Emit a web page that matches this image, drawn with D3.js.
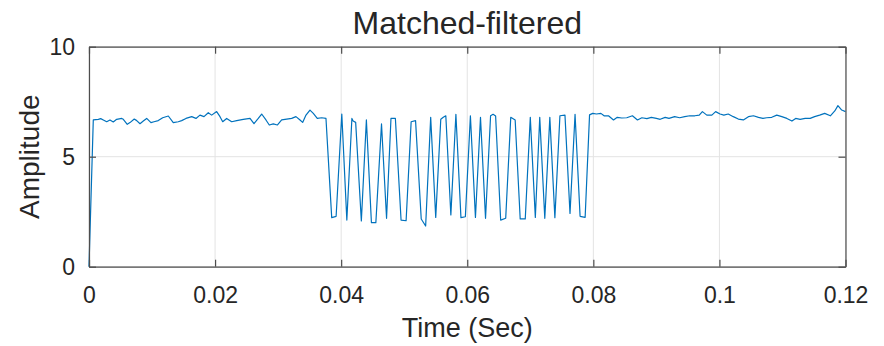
<!DOCTYPE html>
<html>
<head>
<meta charset="utf-8">
<script src="https://cdn.jsdelivr.net/npm/d3@7"></script>
<style>
  html, body { margin: 0; padding: 0; background: #fff; }
  svg { display: block; }
  text { font-family: "Liberation Sans", Arial, Helvetica, sans-serif; fill: #262626; }
</style>
</head>
<body>
<svg id="chart" width="884" height="346"></svg>
<script>
// ---- data ----
const times = [
  0, 0.00068, 0.00148, 0.00186, 0.00227, 0.00281, 0.00333, 0.00385, 0.00439, 0.00519,
  0.00544, 0.00607, 0.00650, 0.00718, 0.00757, 0.00809, 0.00861, 0.00915, 0.00983, 0.01031,
  0.01099, 0.01169, 0.01258, 0.01337, 0.01416, 0.01470, 0.01538, 0.01629, 0.01697, 0.01760,
  0.01824, 0.01892, 0.01946, 0.02025, 0.02078, 0.02121, 0.02184, 0.02263, 0.02343, 0.02447,
  0.02554, 0.02617, 0.02685, 0.02739, 0.02807, 0.02860, 0.02923, 0.02987, 0.03056, 0.03136,
  0.03215, 0.03283, 0.03347, 0.03389, 0.03442, 0.03505, 0.03558, 0.03621, 0.03691, 0.03759,
  0.0385, 0.0392, 0.0401, 0.0409, 0.0417, 0.0419, 0.0423, 0.0432, 0.0440, 0.0448,
  0.0455, 0.0464, 0.0472, 0.0479, 0.0486, 0.0495, 0.0503, 0.0511, 0.0518, 0.0527,
  0.0534, 0.0542, 0.0550, 0.0558, 0.0562, 0.0566, 0.0574, 0.0582, 0.0590, 0.0597,
  0.0605, 0.0613, 0.0621, 0.0629, 0.0637, 0.0641, 0.0645, 0.0653, 0.0661, 0.0669,
  0.0676, 0.0684, 0.0692, 0.0700, 0.0708, 0.0715, 0.0723, 0.0731, 0.0739, 0.0747,
  0.0755, 0.0763, 0.0771, 0.0779, 0.0787,
  0.0794, 0.0799, 0.0805, 0.0812, 0.0817, 0.0824, 0.0832, 0.0838, 0.0845, 0.0853,
  0.0862, 0.0870, 0.0877, 0.0885, 0.0892, 0.0900, 0.0906, 0.0914, 0.0920, 0.0929,
  0.0937, 0.0945, 0.0953, 0.0961, 0.0968, 0.0973, 0.0980, 0.0988, 0.0994, 0.1001,
  0.1007, 0.1014, 0.1022, 0.1030, 0.1038, 0.1046, 0.1054, 0.1062, 0.1069, 0.1075,
  0.1083, 0.1091, 0.1099, 0.1107, 0.1115, 0.1121, 0.1128, 0.1136, 0.1144, 0.1151,
  0.1159, 0.1167, 0.1176, 0.1183, 0.1188, 0.1194, 0.1200
];
const amplitude = [
  0, 6.67, 6.70, 6.73, 6.67, 6.59, 6.67, 6.58, 6.70, 6.74,
  6.70, 6.47, 6.55, 6.71, 6.64, 6.50, 6.62, 6.74, 6.55, 6.59,
  6.64, 6.77, 6.85, 6.55, 6.59, 6.64, 6.74, 6.82, 6.74, 6.89,
  6.82, 7.00, 6.89, 7.05, 6.82, 6.59, 6.74, 6.59, 6.64, 6.70,
  6.74, 6.50, 6.74, 6.94, 6.67, 6.44, 6.49, 6.44, 6.67, 6.71,
  6.74, 6.82, 6.67, 6.56, 6.89, 7.12, 6.97, 6.74, 6.77, 6.74,
  2.23, 2.29, 6.94, 2.12, 6.74, 6.62, 6.56, 2.08, 6.67, 2.00,
  2.00, 6.49, 2.20, 6.74, 6.74, 2.12, 2.09, 6.59, 6.64, 2.17,
  1.85, 6.79, 2.24, 6.70, 6.79, 6.86, 2.35, 6.93, 2.23, 2.27,
  6.86, 2.24, 6.79, 2.20, 6.86, 6.93, 6.85, 2.12, 2.20, 6.79,
  6.67, 2.17, 2.17, 6.79, 2.24, 6.79, 2.20, 6.79, 2.23, 6.86,
  6.89, 2.42, 6.93, 2.29, 2.24,
  6.90, 6.97, 6.94, 6.97, 6.86, 6.86, 6.67, 6.79, 6.76, 6.77,
  6.86, 6.67, 6.77, 6.73, 6.79, 6.74, 6.70, 6.79, 6.74, 6.82,
  6.77, 6.82, 6.86, 6.86, 6.89, 7.05, 6.89, 6.89, 7.05, 6.94,
  6.89, 6.94, 6.82, 6.71, 6.67, 6.82, 6.86, 6.79, 6.74, 6.77,
  6.79, 6.89, 6.82, 6.74, 6.62, 6.74, 6.70, 6.74, 6.74, 6.82,
  6.89, 6.97, 6.86, 7.08, 7.32, 7.12, 7.05
];
const xTicks = [0, 0.02, 0.04, 0.06, 0.08, 0.1, 0.12];
const xTickLabels = ["0", "0.02", "0.04", "0.06", "0.08", "0.1", "0.12"];
const yTicks = [0, 5, 10];
const yTickLabels = ["0", "5", "10"];
const titleText = "Matched-filtered";
const xLabelText = "Time (Sec)";
const yLabelText = "Amplitude";

// ---- layout ----
const svg = d3.select("#chart");
const L = 89, R = 845.5, T = 46.7, B = 266.7;
const x = d3.scaleLinear().domain([0, 0.12]).range([L, R]);
const y = d3.scaleLinear().domain([0, 10]).range([B, T]);
const axisColor = "#4d4d4d";
const tickLen = 7;

// grid
const grid = svg.append("g");
grid.selectAll("line.gx").data(xTicks).join("line")
  .attr("x1", d => x(d)).attr("x2", d => x(d)).attr("y1", T).attr("y2", B)
  .attr("stroke", "#e3e3e3").attr("stroke-width", 1);
grid.selectAll("line.gy").data(yTicks).join("line")
  .attr("x1", L).attr("x2", R).attr("y1", d => y(d)).attr("y2", d => y(d))
  .attr("stroke", "#e3e3e3").attr("stroke-width", 1);

// data line
const pts = times.map((t, i) => [t, amplitude[i]]);
svg.append("path")
  .datum(pts)
  .attr("fill", "none")
  .attr("stroke", "#0072BD")
  .attr("stroke-width", 1.2)
  .attr("stroke-linejoin", "round")
  .attr("d", d3.line().x(d => x(d[0])).y(d => y(d[1])));

// axes (MATLAB-like: ticks inside, box on)
const fmtX = (d, i) => xTickLabels[i];
const fmtY = (d, i) => yTickLabels[i];
const axB = svg.append("g").attr("transform", `translate(0,${B})`)
  .call(d3.axisBottom(x).tickValues(xTicks).tickFormat(fmtX).tickSizeInner(-tickLen).tickSizeOuter(0).tickPadding(20));
const axL = svg.append("g").attr("transform", `translate(${L},0)`)
  .call(d3.axisLeft(y).tickValues(yTicks).tickFormat(fmtY).tickSizeInner(-tickLen).tickSizeOuter(0).tickPadding(14));
const axT = svg.append("g").attr("transform", `translate(0,${T})`)
  .call(d3.axisTop(x).tickValues(xTicks).tickFormat("").tickSizeInner(-tickLen).tickSizeOuter(0));
const axR = svg.append("g").attr("transform", `translate(${R},0)`)
  .call(d3.axisRight(y).tickValues(yTicks).tickFormat("").tickSizeInner(-tickLen).tickSizeOuter(0));
[axB, axL, axT, axR].forEach(a => {
  a.select(".domain").attr("stroke", axisColor).attr("stroke-width", 1.2);
  a.selectAll(".tick line").attr("stroke", axisColor).attr("stroke-width", 1.2);
  a.selectAll(".tick text").attr("fill", "#262626").style("font-size", "23px")
    .style("font-family", "'Liberation Sans', Arial, sans-serif");
});

// titles
svg.append("text").attr("x", (L + R) / 2).attr("y", 34).attr("text-anchor", "middle")
  .style("font-size", "32px").text(titleText);
svg.append("text").attr("x", (L + R) / 2).attr("y", 337).attr("text-anchor", "middle")
  .style("font-size", "27px").text(xLabelText);
svg.append("text").attr("transform", `translate(39,${(T + B) / 2}) rotate(-90)`)
  .attr("text-anchor", "middle").style("font-size", "28px").text(yLabelText);
</script>
</body>
</html>
